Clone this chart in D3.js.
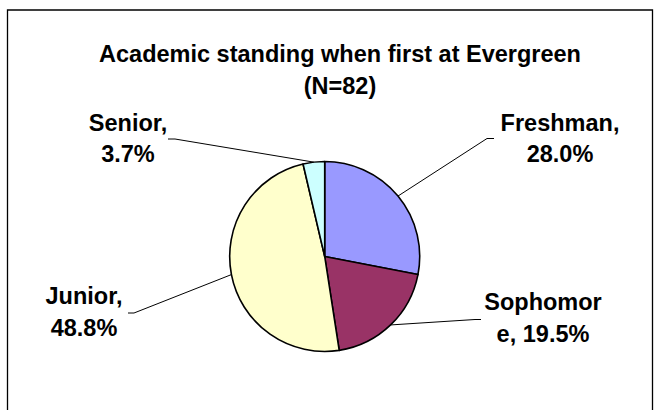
<!DOCTYPE html>
<html>
<head>
<meta charset="utf-8">
<script src="https://cdn.jsdelivr.net/npm/d3@7"></script>
<style>
  body { margin: 0; background: #fff; }
  svg text { font-family: "Liberation Sans", Arial, sans-serif; font-weight: bold; fill: #000; }
</style>
</head>
<body>
<svg id="chart" width="664" height="410"></svg>
<script>
// Data
var categories = ['Freshman', 'Sophomore', 'Junior', 'Senior'];
var counts = [23, 16, 40, 3];          // N = 82
var percents = [28.0, 19.5, 48.8, 3.7];
var colors = ['#9999FF', '#993366', '#FFFFCC', '#CCFFFF'];
var labelLines = [
  ['Freshman,', '28.0%'],
  ['Sophomor', 'e, 19.5%'],
  ['Junior,', '48.8%'],
  ['Senior,', '3.7%']
];
var titleLines = ['Academic standing when first at Evergreen', '(N=82)'];

// Layout
var W = 664, H = 410;
var cx = 324.7, cy = 256.5, R = 95;
var FONT = 23.5;
var LINE_H = 31.5;
// label centre x, first baseline y, leader anchor [x,y], stub direction
var labelLayout = {
  Freshman:  {x: 560, y: 130.5, ax: 494, ay: 138.5, stub: -7},
  Sophomore: {x: 543, y: 310,   ax: 481, ay: 319.5, stub: -6},
  Junior:    {x: 84,  y: 304,   ax: 128, ay: 313,   stub: 6},
  Senior:    {x: 128, y: 130.5, ax: 168, ay: 139,   stub: 7}
};

var svg = d3.select('#chart');

// Chart frame (clipped at the bottom in the original)
svg.append('path')
  .attr('d', 'M7.5,' + (H + 2) + 'V10H652.5V' + (H + 2))
  .attr('fill', 'none')
  .attr('stroke', '#000')
  .attr('stroke-width', 1.3);

// Title
svg.selectAll('.title')
  .data(titleLines)
  .enter().append('text')
  .attr('class', 'title')
  .attr('x', 340)
  .attr('y', function(d, i) { return 62 + i * 32; })
  .attr('text-anchor', 'middle')
  .style('font-size', FONT + 'px')
  .text(function(d) { return d; });

var pie = d3.pie().sort(null).value(function(d) { return d; });
var arcs = pie(counts);
var arc = d3.arc().innerRadius(0).outerRadius(R);

var g = svg.append('g').attr('transform', 'translate(' + cx + ',' + cy + ')');

g.selectAll('path.slice')
  .data(arcs)
  .enter().append('path')
  .attr('class', 'slice')
  .attr('d', arc)
  .attr('fill', function(d, i) { return colors[i]; })
  .attr('stroke', '#000')
  .attr('stroke-width', 1.6)
  .attr('stroke-linejoin', 'round');

// Leader lines from labels to the pie edge at the slice's mid angle
var leader = d3.line();
arcs.forEach(function(d, i) {
  var lay = labelLayout[categories[i]];
  var mid = (d.startAngle + d.endAngle) / 2;
  var ex = cx + R * Math.sin(mid), ey = cy - R * Math.cos(mid);
  svg.append('path')
    .attr('d', leader([[lay.ax, lay.ay], [lay.ax + lay.stub, lay.ay], [ex, ey]]))
    .attr('fill', 'none')
    .attr('stroke', '#000')
    .attr('stroke-width', 1);

  svg.selectAll('.lbl' + i)
    .data(labelLines[i])
    .enter().append('text')
    .attr('class', 'lbl' + i)
    .attr('x', lay.x)
    .attr('y', function(t, j) { return lay.y + j * LINE_H; })
    .attr('text-anchor', 'middle')
    .style('font-size', FONT + 'px')
    .text(function(t) { return t; });
});
</script>
</body>
</html>
